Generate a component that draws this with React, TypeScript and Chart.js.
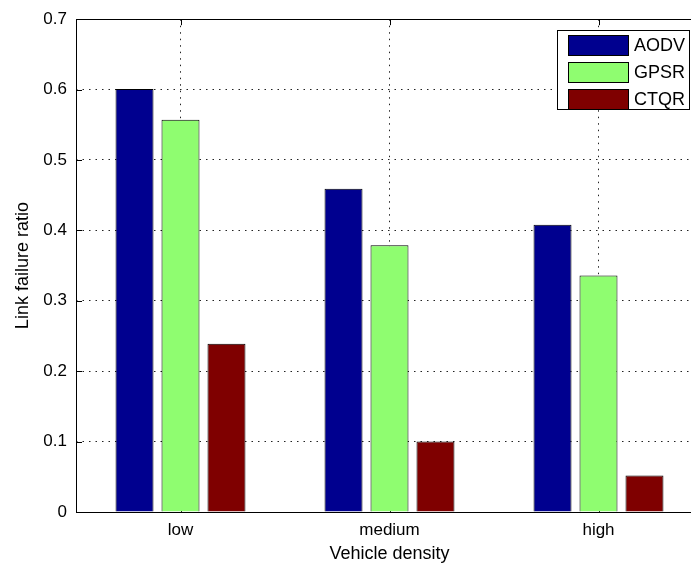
import React, { useEffect, useRef } from 'react';
import { Chart, registerables } from 'chart.js';

Chart.register(...registerables);

const categories = ['low', 'medium', 'high'];
const seriesNames = ['AODV', 'GPSR', 'CTQR'];
const aodvValues = [0.601, 0.459, 0.408];
const gpsrValues = [0.557, 0.379, 0.336];
const ctqrValues = [0.239, 0.1, 0.052];
const seriesColors = ['#00008f', '#8ffd70', '#7f0000'];
const yTickValues = [0, 0.1, 0.2, 0.3, 0.4, 0.5, 0.6, 0.7];
const xTitle = 'Vehicle density';
const yTitle = 'Link failure ratio';

const FONT = '"Liberation Sans", Arial, Helvetica, sans-serif';
const DOTS = [1.5, 5];

const framePlugin = {
  id: 'matlabFrame',
  beforeDatasetsDraw(chart: any) {
    const { ctx, chartArea } = chart;
    const { left, right, top, bottom } = chartArea;
    ctx.save();
    ctx.strokeStyle = '#000';
    ctx.lineWidth = 1;
    ctx.setLineDash([]);
    const ys = chart.scales.y;
    const xs = chart.scales.x;
    const tl = 6;
    yTickValues.forEach((v) => {
      const py = Math.round(ys.getPixelForValue(v)) + 0.5;
      ctx.beginPath();
      ctx.moveTo(left, py);
      ctx.lineTo(left + tl, py);
      ctx.moveTo(right, py);
      ctx.lineTo(right - tl, py);
      ctx.stroke();
    });
    categories.forEach((_, i) => {
      const px = Math.round(xs.getPixelForValue(i)) + 0.5;
      ctx.beginPath();
      ctx.moveTo(px, bottom);
      ctx.lineTo(px, bottom - tl);
      ctx.moveTo(px, top);
      ctx.lineTo(px, top + tl);
      ctx.stroke();
    });
    ctx.strokeRect(Math.round(left) + 0.5, Math.round(top) + 0.5, Math.round(right - left), Math.round(bottom - top));
    ctx.restore();
  },
  afterDatasetsDraw(chart: any) {
    const { ctx, chartArea } = chart;
    const { left, right, bottom } = chartArea;
    ctx.save();
    ctx.strokeStyle = '#000';
    ctx.lineWidth = 1;
    ctx.setLineDash([]);
    ctx.beginPath();
    ctx.moveTo(left, Math.round(bottom) + 0.5);
    ctx.lineTo(right, Math.round(bottom) + 0.5);
    ctx.stroke();
    ctx.restore();
  },
  afterDraw(chart: any) {
    const { ctx, chartArea } = chart;
    const boxRight = chartArea.right - 14;
    const boxTop = chartArea.top + 11;
    const boxW = 132;
    const boxH = 79;
    const boxLeft = boxRight - boxW;
    ctx.save();
    ctx.setLineDash([]);
    ctx.fillStyle = '#fff';
    ctx.fillRect(boxLeft, boxTop, boxW, boxH);
    ctx.strokeStyle = '#000';
    ctx.lineWidth = 1;
    ctx.strokeRect(Math.round(boxLeft) + 0.5, Math.round(boxTop) + 0.5, boxW, boxH);
    ctx.font = `18px ${FONT}`;
    ctx.textBaseline = 'middle';
    ctx.textAlign = 'left';
    chart.data.datasets.forEach((ds: any, i: number) => {
      const sy = Math.round(boxTop) + 5 + i * 27;
      const sx = Math.round(boxLeft) + 11;
      ctx.fillStyle = ds.backgroundColor;
      ctx.fillRect(sx, sy, 60, 20);
      ctx.strokeStyle = '#000';
      ctx.strokeRect(sx + 0.5, sy + 0.5, 60, 20);
      ctx.fillStyle = '#000';
      ctx.fillText(ds.label, sx + 66, sy + 11);
    });
    ctx.restore();
  },
};

export default function App() {
  const canvasRef = useRef<HTMLCanvasElement | null>(null);

  useEffect(() => {
    const canvas = canvasRef.current;
    if (!canvas) return;
    const valueSets = [aodvValues, gpsrValues, ctqrValues];
    const chart = new Chart(canvas, {
      type: 'bar',
      data: {
        labels: categories,
        datasets: seriesNames.map((name, i) => ({
          label: name,
          data: valueSets[i],
          backgroundColor: seriesColors[i],
          borderColor: '#000',
          borderWidth: 1,
          categoryPercentage: 0.66,
          barPercentage: 0.826,
        })),
      },
      options: {
        responsive: false,
        animation: false,
        devicePixelRatio: 1,
        layout: { padding: { left: 0, top: 19, right: 17, bottom: 0 } },
        plugins: {
          legend: { display: false },
          tooltip: { enabled: false },
        },
        scales: {
          x: {
            grid: {
              offset: false,
              drawTicks: false,
              color: '#222',
              lineWidth: 1,
            },
            border: { display: false, dash: DOTS },
            ticks: {
              padding: 8,
              color: '#000',
              font: { family: FONT, size: 17 },
            },
            title: {
              display: true,
              text: xTitle,
              color: '#000',
              font: { family: FONT, size: 18 },
              padding: { top: 0, bottom: 1.5 },
            },
            afterFit: (scale: any) => {
              scale.height = 54;
            },
          },
          y: {
            min: 0,
            max: 0.7,
            grid: {
              drawTicks: false,
              color: '#222',
              lineWidth: 1,
            },
            border: { display: false, dash: DOTS },
            afterBuildTicks: (scale: any) => {
              scale.ticks = yTickValues.map((v) => ({ value: v }));
            },
            ticks: {
              padding: 9,
              color: '#000',
              font: { family: FONT, size: 17 },
              callback: (v: any) => (Number(v) === 0 ? '0' : Number(v).toFixed(1)),
            },
            title: {
              display: true,
              text: yTitle,
              color: '#000',
              font: { family: FONT, size: 18 },
              padding: { top: 12, bottom: 0 },
            },
            afterFit: (scale: any) => {
              scale.width = 76;
            },
          },
        },
      },
      plugins: [framePlugin],
    });
    return () => chart.destroy();
  }, []);

  return (
    <div
      style={{
        position: 'fixed',
        left: 0,
        top: 0,
        width: 691,
        height: 566,
        overflow: 'hidden',
        background: '#fff',
      }}
    >
      <canvas ref={canvasRef} width={720} height={566} style={{ display: 'block', width: 720, height: 566 }} />
    </div>
  );
}
